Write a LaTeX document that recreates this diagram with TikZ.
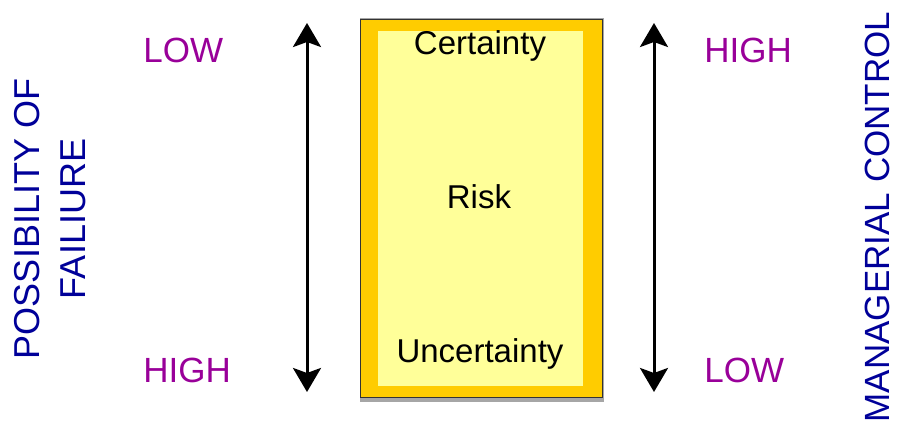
\documentclass[tikz,border=0pt]{standalone}
\usepackage{fontspec}
\setmainfont{Liberation Sans}
\usetikzlibrary{arrows.meta}
\definecolor{gold}{RGB}{255, 204, 0}
\definecolor{pale}{RGB}{255, 255, 153}
\definecolor{navy}{RGB}{0, 0, 153}
\definecolor{plum}{RGB}{153, 0, 153}

\begin{document}
\begin{tikzpicture}[x=1pt, y=1pt, thick,
  level/.style={anchor=base west, text=plum, font=\fontsize{35}{42}\selectfont, inner sep=0},
  axis/.style={rotate=90, text=navy, font=\fontsize{36}{46}\selectfont, align=center, inner sep=0},
  inbox/.style={anchor=base, font=\fontsize{33}{40}\selectfont, inner sep=0},
  updown/.style={{Stealth[length=24pt, width=28pt, inset=5pt]}-{Stealth[length=24pt, width=28pt, inset=5pt]}, line width=3}]
  \useasboundingbox (0, 0) rectangle (898, 434);

  % Box
  \fill [color=black!35] (360, 32) rectangle (604, 416);
  \fill [color=gold] (360, 36) rectangle (602, 414);
  \draw [color=black!80, line width=1] (360, 36) rectangle (602, 414);
  \fill [color=pale] (378, 48) rectangle (583, 403);
  \node [inbox] (cert) at (480, 379) {Certainty};
  \node [inbox] (risk) at (479, 225) {Risk};
  \node [inbox] (unc) at (480, 71) {Uncertainty};

  % Possibility of failiure
  \pgfmathsetmacro{\dx}{307}
  \coordinate (ltop) at (\dx, 411);
  \coordinate (lbot) at (\dx, 42);
  \draw [updown] (ltop) -- (lbot);
  \node [level] (llow) at (143, 371) {LOW};
  \node [level] (lhigh) at (143, 51) {HIGH};
  \node [axis] (fail) at (50, 215) {POSSIBILITY OF\\FAILIURE};

  % Managerial control
  \pgfmathsetmacro{\dx}{654}
  \coordinate (rtop) at (\dx, 411);
  \coordinate (rbot) at (\dx, 42);
  \draw [updown] (rtop) -- (rbot);
  \node [level] (rhigh) at (704, 371) {HIGH};
  \node [level] (rlow) at (704, 51) {LOW};
  \node [axis, anchor=base, font=\fontsize{35}{42}\selectfont] (ctrl) at (889, 217) {MANAGERIAL CONTROL};
\end{tikzpicture}
\end{document}
